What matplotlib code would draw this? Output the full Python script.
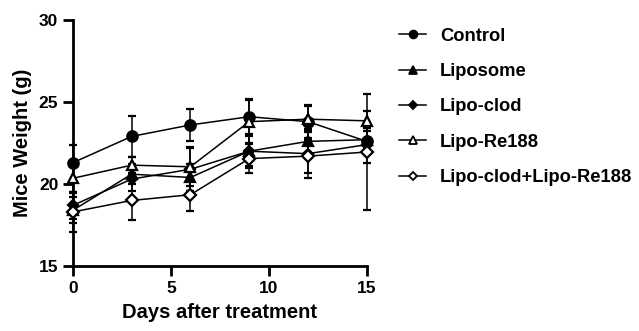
import matplotlib.pyplot as plt
from matplotlib.lines import Line2D

plt.rcParams["font.family"] = ["Liberation Sans", "DejaVu Sans"]
plt.rcParams["font.weight"] = "bold"

days = [0, 3, 6, 9, 12, 15]

control = [21.3, 22.9, 23.6, 24.1, 23.8, 22.6]
control_err = [1.1, 1.25, 0.95, 1.05, 1.0, 0.8]

liposome = [18.4, 20.6, 20.4, 22.0, 22.6, 22.7]
liposome_err = [0.8, 0.6, 0.8, 1.0, 0.7, 0.7]

lipo_clod = [18.7, 20.3, 20.9, 22.0, 21.85, 22.4]
lipo_clod_err = [0.8, 0.7, 1.3, 0.9, 1.5, 1.1]

lipo_re188 = [20.35, 21.15, 21.05, 23.8, 23.95, 23.85]
lipo_re188_err = [0.9, 0.5, 1.2, 1.3, 0.8, 0.6]

combo = [18.3, 19.0, 19.35, 21.55, 21.7, 21.95]
combo_err = [1.2, 1.2, 1.0, 0.9, 1.0, 3.55]

labels = ["Control", "Liposome", "Lipo-clod", "Lipo-Re188", "Lipo-clod+Lipo-Re188"]
means = [control, liposome, lipo_clod, lipo_re188, combo]
errs = [control_err, liposome_err, lipo_clod_err, lipo_re188_err, combo_err]
# 标记样式：实心/空心
markers = ["o", "^", "D", "^", "D"]
msizes = [7.5, 7.5, 5.5, 7.5, 6]
fills = ["black", "black", "black", "white", "white"]

fig = plt.figure(figsize=(6.39, 3.31), dpi=100)
ax = fig.add_axes([0.114, 0.196, 0.460, 0.744])

handles = []
for y, e, lab, m, ms, fc in zip(means, errs, labels, markers, msizes, fills):
    ax.errorbar(days, y, yerr=e, color="black", marker=m,
                markersize=ms, markerfacecolor=fc, markeredgecolor="black",
                markeredgewidth=1.6, linewidth=1.1, elinewidth=1.1,
                capsize=3, capthick=1.1, clip_on=False, zorder=3)
    handles.append(Line2D([], [], color="black", marker=m, linewidth=1.1,
                          markersize=ms * 0.75, markerfacecolor=fc,
                          markeredgecolor="black", markeredgewidth=1.3,
                          label=lab))

ax.set_xlim(0, 15)
ax.set_ylim(15, 30)
ax.set_xticks([0, 5, 10, 15])
ax.set_yticks([15, 20, 25, 30])
ax.spines["top"].set_visible(False)
ax.spines["right"].set_visible(False)
ax.spines["left"].set_linewidth(2)
ax.spines["bottom"].set_linewidth(2)
ax.tick_params(width=2, length=7, labelsize=12.5)
for t in ax.get_xticklabels() + ax.get_yticklabels():
    t.set_fontweight("bold")

ax.set_xlabel("Days after treatment", fontsize=14.5, fontweight="bold", labelpad=5)
ax.set_ylabel("Mice Weight (g)", fontsize=14.5, fontweight="bold", labelpad=5)

leg = ax.legend(handles=handles, loc="upper left", bbox_to_anchor=(1.055, 1.035),
                frameon=False, fontsize=13.2, handlelength=1.45,
                handletextpad=0.75, labelspacing=1.0)
for t in leg.get_texts():
    t.set_fontweight("bold")

plt.savefig("out.png", dpi=100)
